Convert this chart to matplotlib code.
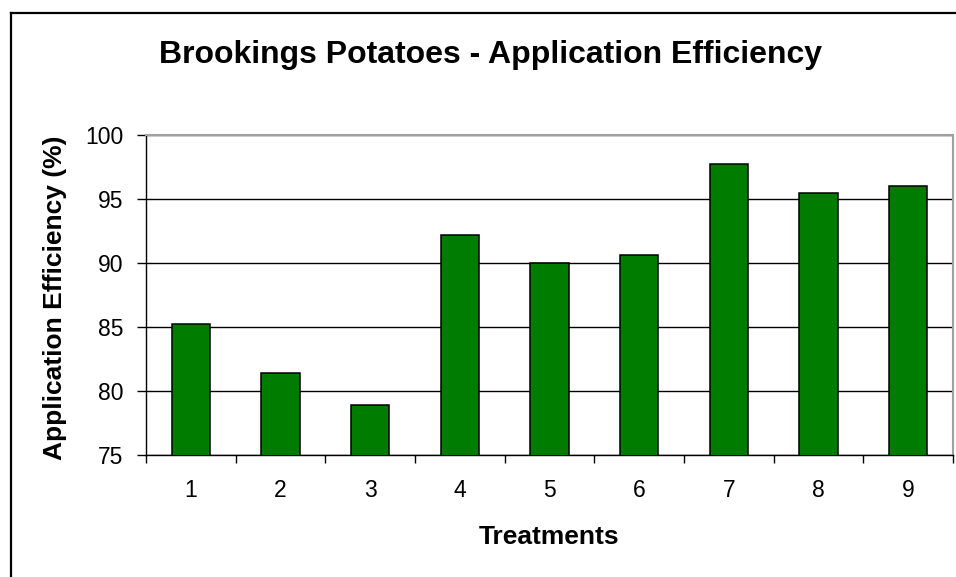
import matplotlib.pyplot as plt
from matplotlib.lines import Line2D
import numpy as np

plt.rcParams['font.family'] = ['Liberation Sans', 'DejaVu Sans']

# 数据
treatments = [1, 2, 3, 4, 5, 6, 7, 8, 9]
efficiency = [85.2, 81.4, 78.9, 92.2, 90.0, 90.6, 97.7, 95.5, 96.0]
y_ticks = [75, 80, 85, 90, 95, 100]

fig = plt.figure(figsize=(9.56, 5.77), dpi=100)
ax = fig.add_axes([146 / 956, 1 - 455 / 577, (953 - 146) / 956, (455 - 135) / 577])

# 柱状图
ax.bar(treatments, efficiency, width=0.43, color='#007C00', edgecolor='black',
       linewidth=1.1, zorder=3)

ax.set_ylim(75, 100)
ax.set_xlim(0.5, 9.5)
ax.set_yticks(y_ticks)
ax.set_xticks(treatments)
ax.set_xticks(np.arange(0.5, 10, 1), minor=True)
ax.tick_params(axis='x', which='major', length=0, labelsize=16.5, pad=17)
ax.tick_params(axis='x', which='minor', length=6, width=1, direction='out')
ax.tick_params(axis='y', length=6.5, width=1, labelsize=16.5, pad=10)

# 网格线
ax.yaxis.grid(True, color='black', linewidth=1, zorder=1)
ax.set_axisbelow(True)

for s in ['top', 'right']:
    ax.spines[s].set_color('#A0A0A0')
    ax.spines[s].set_linewidth(1.5)
for s in ['left', 'bottom']:
    ax.spines[s].set_color('black')
    ax.spines[s].set_linewidth(1)

ax.set_xlabel('Treatments', fontsize=19, fontweight='bold', va='center')
ax.xaxis.set_label_coords(0.5, (455 - 537) / 320)
ax.set_ylabel('Application Efficiency (%)', fontsize=19, fontweight='bold', va='center')
ax.yaxis.set_label_coords((55 - 146) / 807, 0.49)

fig.text(491 / 956, 1 - 63 / 577, 'Brookings Potatoes - Application Efficiency',
         ha='center', va='baseline', fontsize=23, fontweight='bold')

# 外边框（只露出左边和上边）
fig.add_artist(Line2D([11 / 956, 11 / 956], [0, 1 - 13 / 577], color='black', linewidth=1.6,
                      transform=fig.transFigure))
fig.add_artist(Line2D([11 / 956, 1], [1 - 13 / 577, 1 - 13 / 577], color='black', linewidth=1.6,
                      transform=fig.transFigure))

plt.savefig('out.png', dpi=100)
